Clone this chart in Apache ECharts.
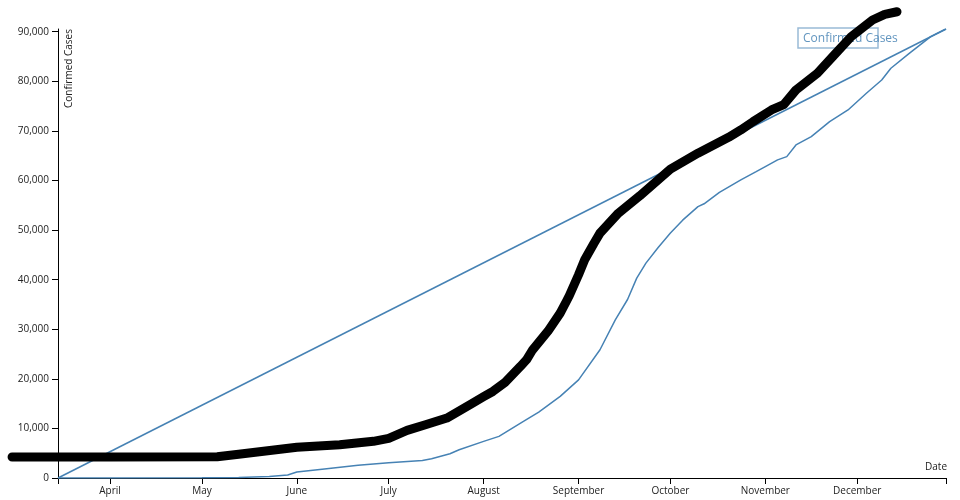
<!DOCTYPE html>
<html><head><meta charset="utf-8">
<script src="https://cdn.jsdelivr.net/npm/echarts@6/dist/echarts.min.js"></script>
<style>html,body{margin:0;padding:0;background:#fff}#c{width:960px;height:500px}</style>
</head><body><div id="c"></div>
<script>
// Blue cumulative line (confirmed cases)
const blueDates = ['2020-03-15','2020-04-01','2020-05-01','2020-05-13','2020-05-23','2020-05-29','2020-06-01','2020-06-10','2020-06-21','2020-07-01','2020-07-12','2020-07-15','2020-07-21','2020-07-24','2020-08-01','2020-08-06','2020-08-14','2020-08-19','2020-08-26','2020-09-01','2020-09-08','2020-09-13','2020-09-17','2020-09-20','2020-09-23','2020-09-27','2020-10-01','2020-10-05','2020-10-10','2020-10-12','2020-10-17','2020-10-24','2020-10-29','2020-11-01','2020-11-05','2020-11-08','2020-11-11','2020-11-16','2020-11-22','2020-11-28','2020-12-04','2020-12-09','2020-12-12','2020-12-18','2020-12-25','2020-12-30'];
const blueValues = [0,10,60,120,300,600,1200,1800,2550,3080,3550,3890,4900,5700,7380,8400,11400,13300,16450,19800,25860,31900,36000,40300,43330,46500,49400,52000,54730,55300,57600,60120,61790,62800,64150,64810,67170,68850,71870,74220,77590,80270,82630,85650,89000,90550];
// Thick black band
const blackDates = ['2020-02-29','2020-04-01','2020-05-06','2020-05-13','2020-06-01','2020-06-15','2020-06-26','2020-07-01','2020-07-07','2020-07-13','2020-07-20','2020-07-28','2020-08-01','2020-08-04','2020-08-08','2020-08-13','2020-08-15','2020-08-17','2020-08-22','2020-08-26','2020-08-28','2020-08-29','2020-09-01','2020-09-03','2020-09-06','2020-09-08','2020-09-14','2020-09-21','2020-10-01','2020-10-10','2020-10-20','2020-10-24','2020-10-28','2020-11-03','2020-11-07','2020-11-11','2020-11-18','2020-11-23','2020-11-29','2020-12-06','2020-12-10','2020-12-14'];
const blackValues = [4230,4230,4300,4800,6200,6710,7400,8000,9600,10740,12090,14970,16400,17450,19300,22490,23840,25860,29600,33250,35600,36800,41000,44000,47300,49380,53410,56900,62300,65500,68700,70190,71870,74220,75300,78250,81620,84970,89000,92360,93500,94030];
// Axis ticks
const monthTickDates = ['2020-04-01','2020-05-01','2020-06-01','2020-07-01','2020-08-01','2020-09-01','2020-10-01','2020-11-01','2020-12-01'];
const monthTickLabels = ['April','May','June','July','August','September','October','November','December'];
const yTickStep = 10000;
const seriesLabel = 'Confirmed Cases';
const xAxisTitle = 'Date';
const yAxisTitle = 'Confirmed Cases';

function ts(s){const p=s.split('-').map(Number);return Date.UTC(p[0],p[1]-1,p[2]);}
const blueData = blueDates.map((d,i)=>[ts(d),blueValues[i]]);
const blackData = blackDates.map((d,i)=>[ts(d),blackValues[i]]);
const closeData = [blueData[blueData.length-1], blueData[0]];
const xMin = ts(blueDates[0]), xMax = ts(blueDates[blueDates.length-1]);
const bMin = ts(blackDates[0]);
const yMax = Math.max.apply(null, blueValues);
const monthTs = monthTickDates.map(ts);
const labelMap = {}; monthTs.forEach((t,i)=>labelMap[t]=monthTickLabels[i]);

// layout
const W = 960, GL = 58, GR = 14, GT = 29, GB = 22;
const plotW = W - GL - GR;
const extraLeft = (xMin - bMin) * plotW / (xMax - xMin);

const FONT = "'Open Sans', sans-serif";
const chart = echarts.init(document.getElementById('c'), null, {renderer:'canvas'});
chart.setOption({
  animation:false,
  backgroundColor:'#fff',
  grid:[
    {left:GL,right:GR,top:GT,bottom:GB,containLabel:false},
    {left:GL-extraLeft,right:GR,top:GT,bottom:GB,containLabel:false}
  ],
  xAxis:[
    {type:'value',gridIndex:0,min:xMin,max:xMax,
      axisLine:{lineStyle:{color:'#000',width:1}},
      axisTick:{length:6,lineStyle:{color:'#000'},customValues:[xMin].concat(monthTs,[xMax])},
      axisLabel:{customValues:monthTs,formatter:v=>labelMap[v]||'',color:'#222',fontFamily:FONT,fontSize:10,margin:8},
      splitLine:{show:false}},
    {type:'value',gridIndex:1,min:bMin,max:xMax,show:false,splitLine:{show:false}}
  ],
  yAxis:[
    {type:'value',gridIndex:0,min:0,max:yMax,interval:yTickStep,
      axisLine:{show:true,lineStyle:{color:'#000',width:1}},
      axisTick:{show:true,length:6,lineStyle:{color:'#000'}},
      axisLabel:{showMaxLabel:false,color:'#222',fontFamily:FONT,fontSize:10,margin:9,
        formatter:v=>v.toLocaleString('en-US')},
      splitLine:{show:false}},
    {type:'value',gridIndex:1,min:0,max:yMax,show:false,splitLine:{show:false}}
  ],
  graphic:[
    {type:'rect',z:0,shape:{x:798,y:28,width:80,height:20},style:{fill:'none',stroke:'rgba(70,130,180,0.55)',lineWidth:1.5}},
    {type:'text',z:0,x:803,y:39,style:{text:seriesLabel,fill:'rgba(70,130,180,0.85)',font:"12px 'Open Sans'",verticalAlign:'middle'}},
    {type:'text',z:10,x:947,y:472,style:{text:xAxisTitle,fill:'#222',font:"10px 'Open Sans'",align:'right',verticalAlign:'bottom'}},
    {type:'text',z:10,x:64,y:29,rotation:Math.PI/2,style:{text:yAxisTitle,fill:'#222',font:"10px 'Open Sans'",align:'right',verticalAlign:'top'}}
  ],
  series:[
    {type:'line',xAxisIndex:0,yAxisIndex:0,name:seriesLabel,data:blueData,showSymbol:false,symbol:'none',lineStyle:{color:'#4682b4',width:1.5},z:2},
    {type:'line',xAxisIndex:0,yAxisIndex:0,data:closeData,showSymbol:false,symbol:'none',lineStyle:{color:'#4682b4',width:1.5},z:2},
    {type:'line',xAxisIndex:1,yAxisIndex:1,data:blackData,showSymbol:false,symbol:'none',clip:false,lineStyle:{color:'#000',width:9,cap:'round',join:'round'},z:3}
  ]
});
</script></body></html>
